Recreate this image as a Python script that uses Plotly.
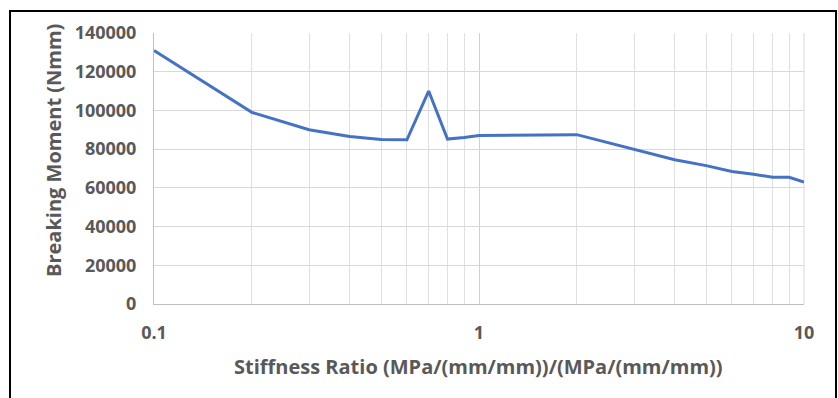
import plotly.graph_objects as go

stiffness_ratio = [0.1, 0.2, 0.3, 0.4, 0.5, 0.6, 0.7, 0.8, 0.9, 1, 2, 3, 4, 5, 6, 7, 8, 9, 10]
breaking_moment = [131000, 99000, 90000, 86500, 85000, 84800, 110000, 85200, 86000, 87000,
                   87500, 80000, 74500, 71500, 68500, 67000, 65500, 65500, 63000]
y_ticks = [0, 20000, 40000, 60000, 80000, 100000, 120000, 140000]
x_ticks = [0.1, 1, 10]
x_title = "Stiffness Ratio (MPa/(mm/mm))/(MPa/(mm/mm))"
y_title = "Breaking Moment (Nmm)"

FONT = "Open Sans"
GREY = "#595959"

fig = go.Figure()
fig.add_trace(go.Scatter(x=stiffness_ratio, y=breaking_moment, mode="lines",
                         line=dict(color="#4472C4", width=3), showlegend=False))

W, H = 838, 398
L, R, T, B = 154, 34, 33, 94
pw, ph = W - L - R, H - T - B

def px(x):
    return (x - L) / pw

def py(y):
    return (H - B - y) / ph

fig.update_layout(
    width=W, height=H,
    margin=dict(l=L, r=R, t=T, b=B),
    paper_bgcolor="white", plot_bgcolor="white",
    font=dict(family=FONT, color=GREY, size=18),
    xaxis=dict(type="log", range=[-1, 1], tickvals=x_ticks, ticktext=["0.1", "1", "10"],
               showgrid=True, gridcolor="#d0d0d0", gridwidth=1,
               minor=dict(tickvals=[0.2, 0.3, 0.4, 0.5, 0.6, 0.7, 0.8, 0.9, 2, 3, 4, 5, 6, 7, 8, 9],
                          showgrid=True, gridcolor="#e0e0e0", gridwidth=1),
               showline=True, linecolor="#bfbfbf", linewidth=1, mirror=False,
               ticks="", ticklabelstandoff=12,
               tickfont=dict(family=FONT, size=18, color=GREY, weight="bold"),
               zeroline=False),
    yaxis=dict(range=[0, 140000], tickvals=y_ticks, ticktext=[str(v) for v in y_ticks],
               showgrid=True, gridcolor="#d9d9d9", gridwidth=1,
               showline=True, linecolor="#bfbfbf", linewidth=1,
               ticks="", ticklabelstandoff=13,
               tickfont=dict(family=FONT, size=18, color=GREY, weight="bold"),
               zeroline=False),
    annotations=[
        dict(text=x_title, xref="paper", yref="paper", x=px(478), y=py(366),
             showarrow=False, xanchor="center", yanchor="middle",
             font=dict(family=FONT, size=20, color=GREY, weight="bold")),
        dict(text=y_title, xref="paper", yref="paper", x=px(53), y=py(151),
             showarrow=False, xanchor="center", yanchor="middle", textangle=-90,
             font=dict(family=FONT, size=20, color=GREY, weight="bold")),
    ],
    shapes=[
        dict(type="line", xref="paper", yref="paper", x0=1, x1=1, y0=0, y1=1,
             line=dict(color="#d9d9d9", width=1), layer="below"),
        dict(type="rect", xref="paper", yref="paper",
             x0=px(10), x1=px(836), y0=py(11), y1=py(420),
             line=dict(color="black", width=2), fillcolor="rgba(0,0,0,0)"),
    ],
)

fig.write_html("out.html")
